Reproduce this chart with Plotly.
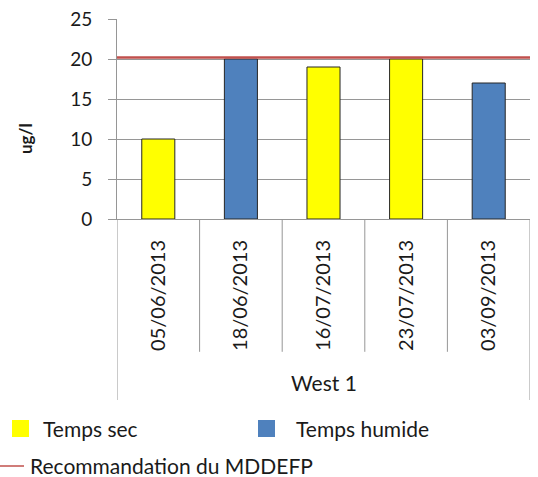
import plotly.graph_objects as go

# Sampling dates at station West 1 and measured concentrations (ug/l)
dates = ["05/06/2013", "18/06/2013", "16/07/2013", "23/07/2013", "03/09/2013"]
site = "West 1"
dry_weather = [10, None, 19, 20, None]      # Temps sec
wet_weather = [None, 20, None, None, 17]    # Temps humide
guideline = 20.2                            # Recommandation du MDDEFP
y_ticks = [0, 5, 10, 15, 20, 25]

YELLOW = "#FFFF00"
BLUE = "#4F81BD"
RED = "#C0504D"
GRID = "#969696"
TEXT = "#1a1a1a"
FONT = "Lato"

idx = list(range(len(dates)))

fig = go.Figure()
fig.add_trace(go.Bar(x=idx, y=dry_weather, name="Temps sec", width=0.4,
                     marker=dict(color=YELLOW, line=dict(color="#262626", width=1)),
                     showlegend=False))
fig.add_trace(go.Bar(x=idx, y=wet_weather, name="Temps humide", width=0.4,
                     marker=dict(color=BLUE, line=dict(color="#262626", width=1)),
                     showlegend=False))
fig.add_trace(go.Scatter(x=[idx[0] - 0.5, idx[-1] + 0.5], y=[guideline, guideline],
                         mode="lines", name="Recommandation du MDDEFP",
                         line=dict(color=RED, width=2.5), showlegend=False))

# Category separators below the axis, outer ones reaching the group label row
shapes = []
for i in idx[:-1]:
    shapes.append(dict(type="line", xref="x", yref="paper", x0=i + 0.5, x1=i + 0.5,
                       y0=0, y1=-0.664, line=dict(color=GRID, width=1)))
for xb in (idx[0] - 0.5, idx[-1] + 0.5):
    shapes.append(dict(type="line", xref="x", yref="paper", x0=xb, x1=xb,
                       y0=0, y1=-0.905, line=dict(color=GRID, width=1)))

# Legend drawn below the chart
W, H = 538, 477
L, R, T, B = 117, 8, 19, 258
pw, ph = W - L - R, H - T - B


def px(xp):
    return (xp - L) / pw


def py(yp):
    return (H - B - yp) / ph


shapes += [
    dict(type="rect", xref="paper", yref="paper", x0=px(12), x1=px(29), y0=py(420), y1=py(437),
         fillcolor=YELLOW, line=dict(width=0)),
    dict(type="rect", xref="paper", yref="paper", x0=px(258), x1=px(275), y0=py(420), y1=py(437),
         fillcolor=BLUE, line=dict(width=0)),
    dict(type="line", xref="paper", yref="paper", x0=px(0), x1=px(24), y0=py(466), y1=py(466),
         line=dict(color=RED, width=1.5)),
]


def label(text, x, y, size=21, xanchor="left", **kw):
    return dict(text=text, x=x, y=y, showarrow=False, xanchor=xanchor, yanchor="middle",
                font=dict(size=size, color=TEXT, family=FONT), **kw)


annotations = [
    label(site, (idx[0] + idx[-1]) / 2, py(383), xanchor="center", xref="x", yref="paper"),
    label("<b>ug/l</b>", px(25), py(139), size=17, xanchor="center",
          xref="paper", yref="paper", textangle=-90),
    label("Temps sec", px(41), py(429), xref="paper", yref="paper"),
    label("Temps humide", px(294), py(429), xref="paper", yref="paper"),
    label("Recommandation du MDDEFP", px(28), py(465), xref="paper", yref="paper"),
]

fig.update_layout(
    width=W, height=H,
    margin=dict(l=L, r=R, t=T, b=B),
    paper_bgcolor="white", plot_bgcolor="white",
    barmode="overlay",
    font=dict(family=FONT, color=TEXT),
    shapes=shapes,
    annotations=annotations,
    xaxis=dict(range=[idx[0] - 0.5, idx[-1] + 0.5], tickvals=idx, ticktext=dates,
               tickangle=-90, tickfont=dict(size=20), showgrid=False, zeroline=False,
               showline=True, linecolor=GRID, linewidth=1, ticks="",
               ticklabelstandoff=12),
    yaxis=dict(range=[0, 25], tickvals=y_ticks, showgrid=True, gridcolor=GRID, gridwidth=1,
               zeroline=False, showline=True, linecolor=GRID, linewidth=1,
               ticks="outside", ticklen=8, tickcolor=GRID, tickfont=dict(size=19),
               ticklabelstandoff=12),
)

fig.write_html("out.html")
